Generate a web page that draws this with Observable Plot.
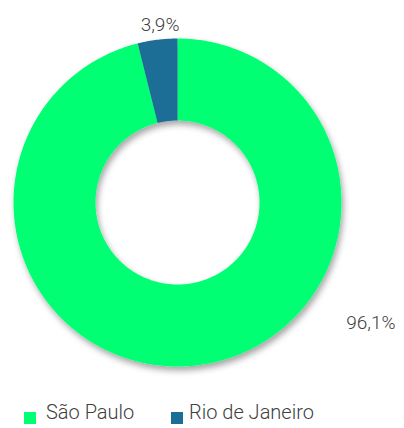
<!DOCTYPE html>
<html>
<head>
<meta charset="utf-8">
<script src="https://cdn.jsdelivr.net/npm/d3@7"></script>
<script src="https://cdn.jsdelivr.net/npm/@observablehq/plot@0.6"></script>
<style>
  body { margin: 0; background: #fff; font-family: Roboto, "Noto Sans", sans-serif; }
  #wrap { position: relative; width: 404px; height: 428px; }
  #legend { position: absolute; left: 0; top: 390px; width: 404px; height: 38px; color: #404040; font-size: 20px; font-weight: 300; }
  .sw { position: absolute; width: 12px; height: 12px; top: 22px; }
  .lt { position: absolute; top: 10px; line-height: 24px; white-space: nowrap; }
</style>
</head>
<body>
<div id="wrap"><div id="chart"></div><div id="legend"></div></div>
<script>
const categories = ["São Paulo", "Rio de Janeiro"];
const values = [96.1, 3.9];
const labels = ["96,1%", "3,9%"];
const colors = ["#00FF73", "#1B6E96"];

// geometry (not data)
const R_OUT = 1, R_IN = 0.5;
const labelPlacement = [{angle: 122, r: 1.39}, {angle: -5.6, r: 1.09}];

const total = d3.sum(values);
const slices = [];
let acc = 0;
categories.forEach((name, i) => {
  const a0 = acc / total * 2 * Math.PI;
  acc += values[i];
  const a1 = acc / total * 2 * Math.PI;
  slices.push({name, a0, a1, i});
});

const polyPts = [];
for (const s of slices) {
  const n = Math.max(4, Math.ceil((s.a1 - s.a0) / 0.01));
  for (let k = 0; k <= n; k++) {
    const a = s.a0 + (s.a1 - s.a0) * k / n;
    polyPts.push({name: s.name, x: R_OUT * Math.sin(a), y: R_OUT * Math.cos(a)});
  }
  for (let k = n; k >= 0; k--) {
    const a = s.a0 + (s.a1 - s.a0) * k / n;
    polyPts.push({name: s.name, x: R_IN * Math.sin(a), y: R_IN * Math.cos(a)});
  }
}

const labelPts = slices.map((s, i) => {
  const p = labelPlacement[i];
  const a = p.angle * Math.PI / 180;
  return {text: labels[i], x: p.r * Math.sin(a), y: p.r * Math.cos(a)};
});

const svg = Plot.plot({
  width: 404,
  height: 390,
  marginLeft: 13,
  marginRight: 63,
  marginTop: 38,
  marginBottom: 24,
  x: {domain: [-1, 1], axis: null},
  y: {domain: [-1, 1], axis: null},
  color: {domain: categories, range: colors},
  style: {fontFamily: "Roboto, sans-serif", background: "transparent"},
  marks: [
    Plot.line(polyPts, {x: "x", y: "y", z: "name", fill: "name", stroke: "none", curve: "linear"}),
    Plot.text(labelPts, {x: "x", y: "y", text: "text", fill: "#404040", fontSize: 19, fontWeight: 300})
  ]
});

// drop shadow
const s = d3.select(svg);
const defs = s.insert("defs", ":first-child");
const f = defs.append("filter").attr("id", "shadow").attr("x", "-20%").attr("y", "-20%").attr("width", "140%").attr("height", "140%");
f.append("feDropShadow").attr("dx", 2).attr("dy", 4).attr("stdDeviation", 3).attr("flood-color", "#000").attr("flood-opacity", 0.35);
s.select('g[aria-label="line"]').attr("filter", "url(#shadow)");

document.getElementById("chart").appendChild(svg);

// legend
const legend = document.getElementById("legend");
const swLeft = [24, 171];
const txtLeft = [46, 189];
categories.forEach((name, i) => {
  const sw = document.createElement("div");
  sw.className = "sw";
  sw.style.left = swLeft[i] + "px";
  sw.style.background = colors[i];
  legend.appendChild(sw);
  const t = document.createElement("div");
  t.className = "lt";
  t.style.left = txtLeft[i] + "px";
  t.textContent = name;
  legend.appendChild(t);
});
</script>
</body>
</html>
